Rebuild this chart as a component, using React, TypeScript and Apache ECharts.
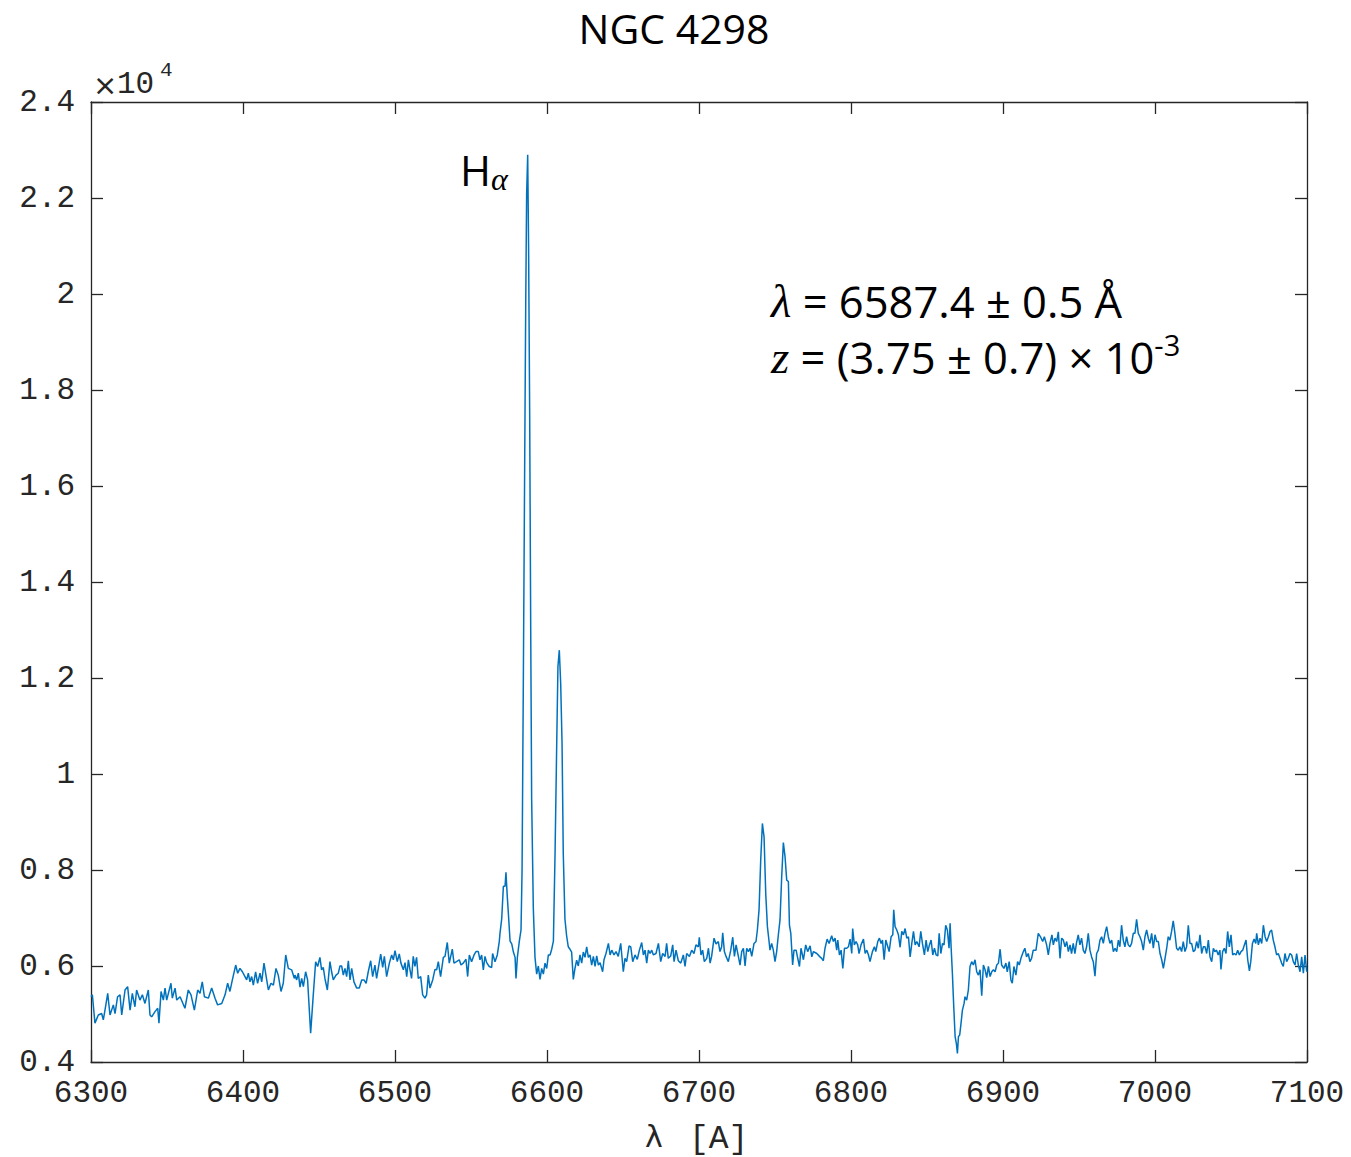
import React, { useEffect, useRef } from "react";
import * as echarts from "echarts";

// Spectrum of NGC 4298: [wavelength (Å), flux (counts)]
const continuumBlue: [number, number][] = [
  [6300.0,5360],[6300.9,5400],[6302.6,4810],[6304.8,4980],[6307.0,5010],[6308.1,4880],[6309.2,5080],[6311.0,5430],[6312.5,4980],[6314.7,5190],[6315.8,5010],[6317.5,5360],[6319.1,5400],[6320.2,4980],[6322.4,5500],[6324.1,5570],[6325.7,5080],[6327.2,5430],[6328.9,5150],[6330.0,5500],[6332.2,5290],[6333.8,5400],[6335.5,5220],[6337.7,5500],[6338.8,4980],[6339.9,4940],[6342.1,5050],[6343.9,5120],[6344.7,4810],[6346.1,5470],[6347.6,5290],[6348.7,5540],[6349.8,5290],[6352.6,5640],[6353.5,5330],[6355.3,5540],[6356.4,5290],[6358.6,5360],[6361.8,5120],[6364.0,5500],[6365.8,5400],[6368.0,5080],[6370.2,5500],[6371.7,5430],[6373.2,5670],[6374.6,5360],[6377.2,5330],[6379.4,5540],[6381.6,5330],[6383.3,5190],[6386.0,5220],[6388.2,5400],[6389.9,5640],[6391.4,5470],[6393.0,5710],[6395.2,6020],[6396.5,5850],[6398.0,5950],[6399.6,5880],[6401.3,5780],[6402.4,5710],[6403.5,5850],[6404.6,5670],[6405.7,5780],[6406.8,5600],[6408.3,5880],[6409.6,5640],[6411.2,5850],[6412.3,5670],[6413.8,6060],[6415.6,5710],[6416.7,5500],[6418.4,5640],[6420.0,5600],[6421.7,5950],[6423.2,5810],[6425.0,5470],[6426.5,5640],[6428.1,6230],[6429.8,5950],[6432.0,5920],[6433.8,5740],
];

const continuumMid: [number, number][] = [
  [6434.2,5810],[6435.3,5710],[6436.4,5850],[6437.5,5560],[6438.6,5740],[6439.7,5570],[6441.2,5880],[6442.5,5710],[6444.5,4600],[6446.3,5430],[6447.8,6090],[6449.1,5990],[6450.6,6180],[6451.7,5920],[6452.8,5970],[6453.9,5740],[6455.5,5500],[6457.2,6090],[6458.3,5880],[6459.4,5710],[6461.2,5810],[6462.7,5850],[6463.8,6000],[6464.9,6000],[6466.0,5810],[6467.1,5950],[6468.2,5780],[6469.3,6110],[6470.4,5710],[6471.5,5950],[6473.0,5670],[6474.8,5540],[6476.5,5540],[6478.1,5710],[6479.6,5710],[6481.0,5640],[6482.4,5880],[6484.0,6110],[6485.3,5780],[6486.8,6020],[6487.9,5740],[6489.0,5950],[6490.6,6250],[6491.9,5970],[6493.0,6200],[6494.5,5780],[6496.3,6060],[6497.8,6230],[6498.9,6130],[6500.0,6320],[6501.5,6090],[6502.8,6250],[6503.9,6060],[6505.5,5920],[6506.6,6070],[6507.7,5780],[6508.8,6130],[6509.8,5930],[6510.9,5740],[6512.0,6200],[6513.1,5990],[6514.2,6180],[6515.3,5740],[6516.9,5780],[6518.2,5400],[6519.7,5330],[6520.8,5400],[6521.9,5810],[6523.0,5540],[6524.8,5710],[6526.3,5930],[6527.4,5920],[6528.5,6090],[6530.0,5780],[6531.8,6180],[6532.9,6200],[6534.4,6490],[6535.7,6060],[6537.7,6350],[6538.8,6060],[6540.5,6090],[6542.3,6130],[6543.4,6020],[6544.9,6060],[6546.7,6140],[6547.8,5780],[6548.9,6230],[6550.4,6090],[6552.0,6230],[6553.3,6300],[6554.8,6300],[6555.9,6130],[6557.0,6230],[6558.1,5920],[6559.2,6200],[6560.3,6070],[6562.0,5990],[6563.6,5970],[6564.2,6260],[6565.8,6090],[6567.3,6230],[6568.6,6510],
];

const halphaRegion: [number, number][] = [
  [6569.1,6690],[6570.2,6980],[6571.3,7660],[6572.4,7660],[6573.0,7950],[6573.9,7430],[6574.6,7090],[6575.7,6520],[6576.8,6460],[6577.9,6290],[6579.0,6180],[6579.6,5740],[6580.5,6180],[6581.8,6520],[6582.9,6750],[6583.6,8000],[6584.4,11780],[6585.3,16350],[6586.0,19790],[6586.6,22070],[6587.3,22900],[6587.9,20930],[6588.6,17500],[6589.3,12920],[6589.9,9490],[6591.0,7200],[6592.1,6180],[6593.2,5830],[6594.3,6000],[6595.4,5720],[6596.5,5950],[6597.6,5830],[6598.7,6060],[6599.8,5950],[6600.9,6230],[6602.0,6230],[6603.1,6350],[6604.2,6520],[6605.3,8350],[6606.4,10640],[6607.2,12240],[6608.1,12580],[6609.0,11890],[6609.9,10640],[6610.7,8350],[6611.8,6980],[6612.9,6630],[6614.0,6400],[6615.1,6350],[6616.2,6290],[6617.3,5720],[6618.4,5950],[6619.5,6120],[6620.6,6000],[6621.7,6230],[6622.8,6060],[6623.9,6290],[6625.0,6180],[6626.1,6400],[6627.2,6180],
];

const sulphurRegion: [number, number][] = [
  [6628.3,6230],[6629.4,6020],[6630.5,6200],[6631.6,5990],[6632.7,6210],[6633.8,6020],[6634.9,6070],[6636.6,5880],[6637.5,6130],[6638.8,6260],[6640.4,6470],[6641.5,6230],[6642.6,6330],[6644.1,6230],[6645.4,6300],[6646.9,6200],[6648.5,6470],[6650.2,5880],[6651.3,6160],[6652.4,6090],[6654.0,6420],[6655.1,6400],[6656.4,6090],[6657.9,6230],[6659.4,6140],[6660.8,6330],[6662.3,6490],[6663.4,6230],[6664.5,6330],[6665.6,6060],[6666.7,6330],[6667.8,6260],[6668.9,6330],[6670.0,6230],[6671.7,6260],[6673.3,6470],[6674.8,6090],[6676.1,6260],[6677.7,6200],[6678.7,6470],[6679.8,6160],[6681.4,6210],[6682.7,6440],[6683.6,6090],[6684.9,6330],[6686.4,6110],[6688.0,6060],[6689.7,6230],[6690.8,5990],[6691.9,6260],[6693.7,6200],[6695.2,6330],[6696.7,6260],[6698.0,6440],[6699.6,6400],[6700.2,6600],[6701.3,6230],[6702.4,6330],[6703.5,6090],[6705.1,6160],[6706.2,6370],[6707.3,6060],[6708.3,6200],[6709.9,6580],[6711.2,6460],[6712.7,6510],[6713.8,6300],[6714.9,6400],[6715.6,6690],[6716.7,6300],[6717.8,6200],[6719.3,6090],[6720.9,6330],[6722.2,6600],[6723.3,6200],[6724.4,6440],[6725.9,6200],[6727.0,6020],[6728.1,6300],[6729.2,6370],[6730.3,6000],[6731.4,6370],[6732.5,6300],[6733.6,6370],[6734.7,6200],[6736.2,6470],[6737.5,6510],[6738.4,6750],[6739.5,7170],[6740.6,8210],[6741.7,8970],[6742.8,8690],[6743.9,7510],[6745.0,6820],[6746.1,6510],[6746.7,6330],[6747.8,6470],[6748.9,6330],[6750.0,6090],[6751.1,6300],[6752.2,6650],[6753.3,6960],[6754.4,7860],[6755.5,8570],[6756.6,8280],[6757.7,7790],[6758.8,7760],[6759.5,6850],[6760.4,6680],[6761.6,6020],[6762.5,6330],[6763.9,6330],[6764.7,6200],[6766.1,5990],
];

const telluricRegion: [number, number][] = [
  [6767.1,6370],[6768.7,6130],[6770.2,6440],[6771.5,6300],[6773.1,6420],[6774.2,6190],[6775.3,6300],[6777.5,6260],[6779.6,6190],[6780.7,6160],[6781.8,6110],[6782.9,6370],[6784.3,6560],[6785.6,6470],[6787.3,6630],[6788.4,6510],[6789.5,6580],[6790.6,6330],[6791.3,6540],[6792.4,6230],[6793.5,6330],[6794.6,5950],[6795.7,6370],[6797.2,6370],[6798.3,6400],[6799.4,6560],[6800.5,6260],[6801.1,6780],[6802.2,6440],[6803.3,6510],[6804.4,6440],[6805.3,6260],[6806.6,6440],[6808.2,6560],[6809.3,6260],[6810.4,6330],[6811.5,6230],[6812.5,6090],[6814.1,6300],[6815.4,6400],[6816.3,6300],[6817.6,6510],[6818.7,6580],[6819.8,6470],[6820.7,6540],[6821.8,6130],[6822.9,6540],[6824.2,6400],[6825.1,6300],[6826.4,6610],[6827.5,6650],[6828.1,7170],[6829.0,6820],[6830.1,6750],[6831.2,6650],[6832.3,6390],[6833.4,6720],[6834.5,6650],[6835.6,6780],[6836.7,6580],[6837.8,6610],[6838.9,6190],[6840.0,6470],[6841.1,6720],[6842.2,6440],[6843.3,6510],[6844.8,6400],[6845.9,6720],[6847.0,6470],[6848.3,6230],[6849.4,6540],[6850.5,6300],[6851.6,6440],[6852.7,6540],[6853.8,6230],[6854.9,6370],[6856.0,6230],[6857.1,6210],[6858.0,6680],[6859.1,6260],[6860.2,6470],[6861.2,6440],[6862.3,6850],[6863.4,6750],[6864.5,6370],[6865.2,6890],[6865.8,6440],[6866.7,5850],[6867.6,5150],[6868.5,4530],[6869.3,4390],[6870.0,4180],[6870.7,4530],[6871.5,4560],[6872.4,4810],[6873.3,5080],[6874.4,5220],[6875.0,5360],[6876.1,5290],[6877.2,5500],[6878.3,5990],[6879.4,6090],[6880.5,6020],[6881.6,6130],[6882.7,5880],[6883.8,5810],[6884.9,5920],[6886.0,5380],[6887.1,6020],[6888.2,5920],[6889.3,5760],[6890.4,5990],[6891.5,5780],[6892.6,5880],[6893.7,5920],[6894.8,5880],[6895.9,6020],[6897.0,6060],[6898.1,6350],
];

const continuumRed: [number, number][] = [
  [6899.1,6020],[6900.6,5950],[6901.9,6060],[6902.8,5880],[6904.1,6090],[6905.2,5710],[6906.1,5640],[6907.2,5990],[6908.5,5810],[6909.6,6090],[6910.7,6020],[6911.8,6160],[6913.4,6300],[6914.4,6370],[6915.5,6190],[6916.6,6260],[6917.7,6090],[6918.8,6160],[6919.9,6330],[6921.7,6330],[6923.2,6680],[6924.8,6600],[6926.1,6510],[6927.2,6610],[6928.7,6440],[6929.8,6230],[6930.9,6470],[6932.2,6650],[6933.1,6440],[6934.2,6580],[6935.3,6510],[6936.4,6710],[6937.5,6160],[6938.6,6580],[6939.7,6540],[6940.8,6400],[6941.9,6510],[6943.0,6300],[6944.1,6440],[6945.1,6260],[6946.2,6470],[6947.3,6260],[6948.4,6490],[6949.5,6650],[6950.6,6440],[6951.7,6580],[6952.8,6330],[6953.9,6260],[6955.0,6400],[6956.1,6680],[6957.2,6330],[6958.3,6190],[6959.4,6090],[6960.5,5790],[6961.6,6260],[6962.7,6330],[6963.8,6540],[6964.9,6610],[6966.0,6470],[6967.1,6680],[6968.2,6820],[6969.3,6610],[6970.4,6470],[6971.5,6540],[6972.6,6300],[6973.7,6370],[6974.8,6300],[6975.9,6540],[6976.9,6400],[6978.0,6850],[6979.1,6540],[6980.2,6400],[6981.3,6610],[6982.4,6440],[6983.5,6400],[6984.6,6470],[6985.7,6680],[6986.8,6680],[6987.9,6970],[6989.0,6680],[6990.1,6610],[6991.2,6510],[6992.3,6330],[6993.4,6610],[6994.5,6750],[6995.6,6580],[6996.7,6470],[6997.8,6680],[6998.9,6370],[7000.0,6650],[7001.1,6510],[7002.2,6510],[7003.3,6260],[7004.4,6130],[7005.5,5950],[7006.6,6160],[7007.7,6370],[7008.7,6610],[7009.8,6540],[7010.9,6720],[7012.0,6940],[7013.1,6680],[7014.2,6370],[7015.3,6330],[7016.4,6400],[7017.5,6300],[7018.6,6510],[7019.7,6300],[7020.8,6400],[7021.9,6850],[7023.0,6470],[7024.1,6470],[7025.2,6300],[7026.3,6330],[7027.4,6510],[7028.5,6370],[7029.6,6650],[7030.7,6260],[7031.8,6400],[7032.9,6400],[7034.0,6260],[7035.1,6540],[7036.2,6190],[7037.3,6090],[7038.4,6370],[7039.4,6300],[7040.5,6330],[7041.6,6230],[7042.7,6330],[7043.4,5930],[7044.5,6300],[7045.6,6370],[7046.7,6260],[7047.8,6720],[7048.9,6400],[7050.0,6650],[7051.1,6230],[7052.2,6260],[7053.3,6230],[7054.4,6330],[7055.5,6230],[7056.6,6300],[7057.7,6330],[7058.8,6440],[7059.9,6540],[7061.0,6130],[7062.1,5900],[7063.0,6090],[7064.1,6470],[7065.2,6560],[7066.3,6470],[7066.9,6680],[7068.0,6440],[7069.1,6580],[7070.2,6470],[7071.3,6850],[7072.4,6610],[7073.5,6510],[7074.6,6610],[7075.7,6720],[7076.7,6750],[7077.8,6540],[7078.9,6400],[7080.0,6230],[7081.1,6260],[7082.2,6160],[7083.3,6060],[7084.4,5990],[7085.5,6260],[7086.6,6090],[7087.7,6160],[7088.8,6260],[7089.9,6230],[7091.0,6090],[7092.1,6020],[7093.2,6260],[7094.3,6020],[7095.4,5880],[7096.5,6190],[7097.6,5850],[7098.7,6230],[7099.8,5880],
];

const xTicks = { min: 6300, max: 7100, interval: 100 };
const yTicks = { min: 4000, max: 24000, interval: 2000 };
const titleText = "NGC 4298";
const fitLine1 = " = 6587.4 ± 0.5 Å";
const fitLine2 = " = (3.75 ± 0.7) × 10";
const fitExponent = "-3";
const axisMultiplier = "10";
const axisExponent = "4";
const xAxisSymbol = "λ";
const xAxisUnit = "[A]";

const MONO = "'Liberation Mono', 'DejaVu Sans Mono', monospace";
const SANS = "'Open Sans', 'Noto Sans', sans-serif";
const SERIF = "'Liberation Serif', 'DejaVu Serif', serif";
const AX = "#262626";

export default function App() {
  const ref = useRef<HTMLDivElement>(null);
  useEffect(() => {
    if (!ref.current) return;
    const chart = echarts.init(ref.current, null, { renderer: "svg" });
    const spectrum = [
      ...continuumBlue,
      ...continuumMid,
      ...halphaRegion,
      ...sulphurRegion,
      ...telluricRegion,
      ...continuumRed,
    ];
    const axisLine = { show: true, lineStyle: { color: AX, width: 1.3 } };
    const axisTick = { show: true, inside: true, length: 12, lineStyle: { color: AX, width: 1.3 } };
    chart.setOption({
      animation: false,
      backgroundColor: "#ffffff",
      grid: { left: 91, right: 44, top: 102, bottom: 95, containLabel: false, outerBoundsMode: "none" },
      xAxis: [
        {
          type: "value",
          position: "bottom",
          min: xTicks.min,
          max: xTicks.max,
          interval: xTicks.interval,
          splitLine: { show: false },
          axisLine,
          axisTick,
          axisLabel: {
            fontFamily: MONO,
            fontSize: 31,
            color: AX,
            margin: 16,
            formatter: (v: number) => String(v),
          },
        },
        {
          type: "value",
          position: "top",
          min: xTicks.min,
          max: xTicks.max,
          interval: xTicks.interval,
          splitLine: { show: false },
          axisLine,
          axisTick,
          axisLabel: { show: false },
        },
      ],
      yAxis: [
        {
          type: "value",
          position: "left",
          min: yTicks.min,
          max: yTicks.max,
          interval: yTicks.interval,
          splitLine: { show: false },
          axisLine,
          axisTick,
          axisLabel: {
            fontFamily: MONO,
            fontSize: 31,
            color: AX,
            margin: 16,
            formatter: (v: number) => String(Math.round(v / 1000) / 10),
          },
        },
        {
          type: "value",
          position: "right",
          min: yTicks.min,
          max: yTicks.max,
          interval: yTicks.interval,
          splitLine: { show: false },
          axisLine,
          axisTick,
          axisLabel: { show: false },
        },
      ],
      series: [
        {
          type: "line",
          data: spectrum,
          showSymbol: false,
          symbol: "none",
          lineStyle: { color: "#0072BD", width: 1.5 },
          xAxisIndex: 0,
          yAxisIndex: 0,
          clip: true,
        },
      ],
      graphic: [
        {
          type: "text",
          x: 674,
          y: 28,
          style: {
            text: titleText,
            fontFamily: SANS,
            fontSize: 41,
            fill: "#000",
            align: "center",
            verticalAlign: "middle",
          },
        },
        {
          type: "text",
          x: 93,
          y: 85,
          style: {
            text: "×",
            fontFamily: "'DejaVu Sans', sans-serif",
            fontSize: 29,
            fill: AX,
            align: "left",
            verticalAlign: "middle",
          },
        },
        {
          type: "text",
          x: 117,
          y: 84,
          style: {
            text: axisMultiplier,
            fontFamily: MONO,
            fontSize: 31,
            fill: AX,
            align: "left",
            verticalAlign: "middle",
          },
        },
        {
          type: "text",
          x: 160,
          y: 70,
          style: {
            text: axisExponent,
            fontFamily: MONO,
            fontSize: 21,
            fill: AX,
            align: "left",
            verticalAlign: "middle",
          },
        },
        {
          type: "text",
          x: 645,
          y: 1136,
          style: {
            text: xAxisSymbol,
            fontFamily: "'DejaVu Sans', sans-serif",
            fontSize: 30,
            fill: AX,
            align: "left",
            verticalAlign: "middle",
          },
        },
        {
          type: "text",
          x: 689,
          y: 1139,
          style: {
            text: xAxisUnit,
            fontFamily: MONO,
            fontSize: 33,
            fill: AX,
            align: "left",
            verticalAlign: "middle",
          },
        },
        {
          type: "text",
          x: 460,
          y: 169,
          style: {
            text: "{h|H}{a|α}",
            align: "left",
            verticalAlign: "middle",
            fill: "#000",
            rich: {
              h: { fontFamily: SANS, fontSize: 42, lineHeight: 52, color: "#000" },
              a: { fontFamily: SERIF, fontStyle: "italic", fontSize: 32, lineHeight: 30, verticalAlign: "bottom", color: "#000" },
            },
          },
        },
        {
          type: "text",
          x: 771,
          y: 301,
          style: {
            text: "{m|λ}{t|" + fitLine1 + "}",
            align: "left",
            verticalAlign: "middle",
            fill: "#000",
            rich: {
              m: { fontFamily: SERIF, fontStyle: "italic", fontSize: 47, lineHeight: 54, color: "#000" },
              t: { fontFamily: SANS, fontSize: 43.5, lineHeight: 54, color: "#000" },
            },
          },
        },
        {
          type: "text",
          x: 771,
          y: 357,
          style: {
            text: "{m|z}{t|" + fitLine2 + "}{s|" + fitExponent + "}",
            align: "left",
            verticalAlign: "middle",
            fill: "#000",
            rich: {
              m: { fontFamily: SERIF, fontStyle: "italic", fontSize: 47, lineHeight: 54, color: "#000" },
              t: { fontFamily: SANS, fontSize: 43.5, lineHeight: 54, color: "#000" },
              s: { fontFamily: SANS, fontSize: 29, lineHeight: 29, verticalAlign: "top", color: "#000" },
            },
          },
        },
      ],
    });
    return () => chart.dispose();
  }, []);
  return (
    <div
      ref={ref}
      style={{ position: "absolute", left: 0, top: 0, width: 1351, height: 1157, background: "#fff" }}
    />
  );
}
